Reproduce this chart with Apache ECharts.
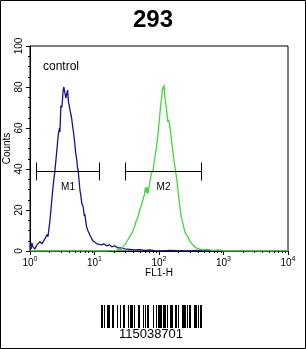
<!DOCTYPE html>
<html>
<head>
<meta charset="utf-8">
<script src="https://cdn.jsdelivr.net/npm/echarts@6/dist/echarts.min.js"></script>
<style>
html,body{margin:0;padding:0;background:#fff;}
#c{width:306px;height:349px;}
</style>
</head>
<body>
<div id="c"></div>
<script>
// ---- data ----
const chartTitle = '293';
const sampleNote = 'control';
const xName = 'FL1-H';
const yName = 'Counts';
const yTicks = [0, 20, 40, 60, 80, 100];

// control histogram (blue): [FL1-H, counts]
const controlX = [1.00,1.04,1.07,1.11,1.19,1.28,1.43,1.53,1.71,1.83,1.90,2.04,2.27,2.43,2.57,2.74,2.86,2.91,3.01,3.12,3.27,3.35,3.48,3.60,3.73,3.83,3.94,4.05,4.22,4.41,4.62,4.79,4.96,5.09,5.33,5.46,5.58,5.93,6.14,6.37,6.67,6.96,7.08,7.52,7.88,8.16,8.46,9.08,9.41,10.1,10.9,11.7,12.8,13.9,15.5,17.2,18.5,20.6,22.9,25.5,29.4,35.1,42.0,50.1,59.9,71.6,85.5,102,150,250,400,600,900];
const controlY = [3,1,4,2,1,3,4.5,3.5,6,8,7,15,31,39,47,56.6,60,58,71,70,78.5,80,77,74.6,77,78.5,73,72.8,68,65,60,56.6,52,48.4,44,40.5,39.5,30,27,23,21.6,17,18,11.9,10,9,7.8,6,5,4.5,3.5,4,3,3.5,2.5,3,2,2.5,1.5,1.5,1,0.8,0.5,0.7,0.3,0.5,0.2,0,0.3,0,0.3,0,0];

// sample histogram (green): [FL1-H, counts]
const sampleX = [1.00,5,15,22.1,23.8,26.1,27.4,29.4,31.6,35.1,37.1,39.5,42.0,44.6,46.7,50.1,52.8,56.4,59.9,61.6,63.6,65.5,67.4,71.6,76.0,80.5,85.5,90.8,95.1,99.6,102,106,110,112,115,118,120,122,127,130,133,137,141,146,151,155,159,164,168,174,181,185,190,196,201,208,216,221,232,240,249,262,280,297,316,343,377,424,472,564,674,864,1030,10000];
const sampleY = [0,0,0,0.3,1,0.5,2,3,4.5,7,8,10,12,15,16,20,22,25,28,31,28.5,31,28,33,38,39,45,50,55,61.5,65,71,75,77.7,80,79,81,76,72,69.6,67,63,64,61.5,58,55,52,48.4,46,42,39,39.5,34,30,27,23,19,16.7,14,12,10,8,7,5,4,2.5,1.5,1,0.5,0.8,0.3,0.5,0,0];

// gates
const gateLabels = ['M1', 'M2'];
const gateFrom = [1.24, 30.1];
const gateTo = [11.7, 440];
const gateLevel = [39, 39];

// log-axis minor tick values
const minorTickValues = [2,3,4,5,6,7,8,9,20,30,40,50,60,70,80,90,200,300,400,500,600,700,800,900,2000,3000,4000,5000,6000,7000,8000,9000];

const barcodeText = '115038701';

// ---- code128 (for barcode decoration) ----
const C128 = ['212222','222122','222221','121223','121322','131222','122213','122312','132212','221213','221312','231212','112232','122132','122231','113222','123122','123221','223211','221132','221231','213212','223112','312131','311222','321122','321221','312212','322112','322211','212123','212321','232121','111323','131123','131321','112313','132113','132311','211313','231113','231311','112133','112331','132131','113123','113321','133121','313121','211331','231131','213113','213311','213131','311123','311321','331121','312113','312311','332111','314111','221411','431111','111224','111422','121124','121421','141122','141221','112214','112412','122114','122411','142112','142211','241211','221114','413111','241112','134111','111242','121142','121241','114212','124112','124211','411212','421112','421211','212141','214121','412121','111143','111341','131141','114113','114311','411113','411311','113141','114131','311141','411131','211412','211214','211232','2331112'];
function encode128(txt){
  const codes=[105];
  let i=0;
  while(i+1<txt.length){codes.push(parseInt(txt.substr(i,2),10));i+=2;}
  if(i<txt.length){codes.push(100);codes.push(txt.charCodeAt(i)-32);}
  let sum=codes[0];
  for(let k=1;k<codes.length;k++) sum+=k*codes[k];
  codes.push(sum%103);
  codes.push(106);
  return codes.map(c=>C128[c]).join('');
}
const pattern = encode128(barcodeText);
let totalMod = 0; for (const ch of pattern) totalMod += +ch;
const barEls = [];
{
  const mw = 1, bx0 = Math.round(151 - totalMod*mw/2), by = 305, bh = 23;
  let x = bx0;
  for (let k=0;k<pattern.length;k++){
    const w = +pattern[k]*mw;
    if (k%2===0) barEls.push({type:'rect',shape:{x:x,y:by,width:w,height:bh},style:{fill:'#000'}});
    x += w;
  }
}

const chart = echarts.init(document.getElementById('c'), null, {renderer:'canvas'});
const FONT = 'Liberation Sans, Arial, sans-serif';

function supFmt(v){
  const e = Math.round(Math.log10(v));
  return '{b|10}{s|' + e + '}';
}

const option = {
  animation: false,
  backgroundColor: '#fff',
  title: {
    text: chartTitle, left: 'center', top: 3,
    textStyle: {fontFamily: FONT, fontSize: 24, fontWeight: 'bold', color: '#000'}
  },
  grid: {left: 30, top: 46, right: 18, bottom: 98, show: true, borderColor: '#000', borderWidth: 1, backgroundColor: 'transparent', containLabel: false, outerBoundsMode: 'none'},
  xAxis: {
    type: 'log', logBase: 10, min: 1, max: 10000,
    name: xName, nameLocation: 'middle', nameGap: 17, nameMoveOverlap: false,
    nameTextStyle: {fontFamily: FONT, fontSize: 10, color: '#000'},
    axisLine: {show: true, lineStyle: {color: '#000', width: 1}},
    axisTick: {show: true, length: 4, lineStyle: {color: '#000'}},
    splitLine: {show: false},
    axisLabel: {
      formatter: supFmt, margin: 5, hideOverlap: false,
      rich: {
        b: {fontFamily: FONT, fontSize: 10, color: '#000', verticalAlign: 'bottom', lineHeight: 12},
        s: {fontFamily: FONT, fontSize: 7, color: '#000', verticalAlign: 'top', lineHeight: 12, padding: [0,0,6,0]}
      }
    }
  },
  yAxis: {
    type: 'value', min: 0, max: 100, interval: 20,
    name: yName, nameLocation: 'middle', nameGap: 18, nameRotate: 90, nameMoveOverlap: false,
    nameTextStyle: {fontFamily: FONT, fontSize: 10, color: '#000'},
    axisLine: {show: true, lineStyle: {color: '#000', width: 1}},
    axisTick: {show: true, length: 4, lineStyle: {color: '#000'}},
    minorTick: {show: true, splitNumber: 4, length: 2, lineStyle: {color: '#000'}},
    splitLine: {show: false},
    axisLabel: {
      rotate: 90, margin: 6, fontFamily: FONT, fontSize: 10, color: '#000',
      formatter: v => (yTicks.indexOf(v) >= 0 ? String(v) : '')
    }
  },
  graphic: [
    {type: 'rect', shape: {x: 0.5, y: 0.5, width: 305, height: 348}, style: {fill: 'none', stroke: '#000', lineWidth: 1}, z: 100},
    {type: 'text', left: 43, top: 61, style: {text: sampleNote, font: '12px ' + FONT, fill: '#000'}},
    {type: 'group', children: barEls},
    {type: 'text', x: 151, y: 334, style: {text: barcodeText, font: '13px ' + FONT, fill: '#000', textAlign: 'center', textVerticalAlign: 'middle'}}
  ],
  series: [
    {
      type: 'line', name: 'control', showSymbol: false, symbol: 'none',
      data: controlX.map((x, i) => [x, controlY[i]]),
      lineStyle: {color: '#14148f', width: 1.3}, z: 3
    },
    {
      type: 'line', name: 'sample', showSymbol: false, symbol: 'none',
      data: sampleX.map((x, i) => [x, sampleY[i]]),
      lineStyle: {color: '#3fd83f', width: 1.3}, z: 4
    },
    {
      type: 'custom', name: 'gates', z: 5,
      data: gateLabels.map((l, i) => [gateFrom[i], gateTo[i], gateLevel[i], i]),
      encode: {x: [0, 1], y: 2},
      renderItem: function (params, api) {
        const a = api.coord([api.value(0), api.value(2)]);
        const b = api.coord([api.value(1), api.value(2)]);
        const y = Math.round(a[1]) + 0.5;
        const x1 = Math.round(a[0]) + 0.5, x2 = Math.round(b[0]) + 0.5;
        const st = {stroke: '#000', lineWidth: 1};
        return {
          type: 'group',
          children: [
            {type: 'line', shape: {x1: x1, y1: y, x2: x2, y2: y}, style: st},
            {type: 'line', shape: {x1: x1, y1: y - 9, x2: x1, y2: y + 9}, style: st},
            {type: 'line', shape: {x1: x2, y1: y - 9, x2: x2, y2: y + 9}, style: st},
            {type: 'text', style: {text: gateLabels[api.value(3)], x: (x1 + x2) / 2, y: y + 16, textAlign: 'center', textVerticalAlign: 'middle', font: '10px ' + FONT, fill: '#000'}}
          ]
        };
      }
    },
    {
      type: 'custom', name: 'minorTicks', z: 5, silent: true,
      data: minorTickValues.map(v => [v, 0]),
      renderItem: function (params, api) {
        const p = api.coord([api.value(0), 0]);
        const x = Math.round(p[0]) + 0.5;
        return {type: 'line', shape: {x1: x, y1: p[1], x2: x, y2: p[1] + 2}, style: {stroke: '#000', lineWidth: 1}};
      }
    }
  ]
};
chart.setOption(option);
</script>
</body>
</html>
